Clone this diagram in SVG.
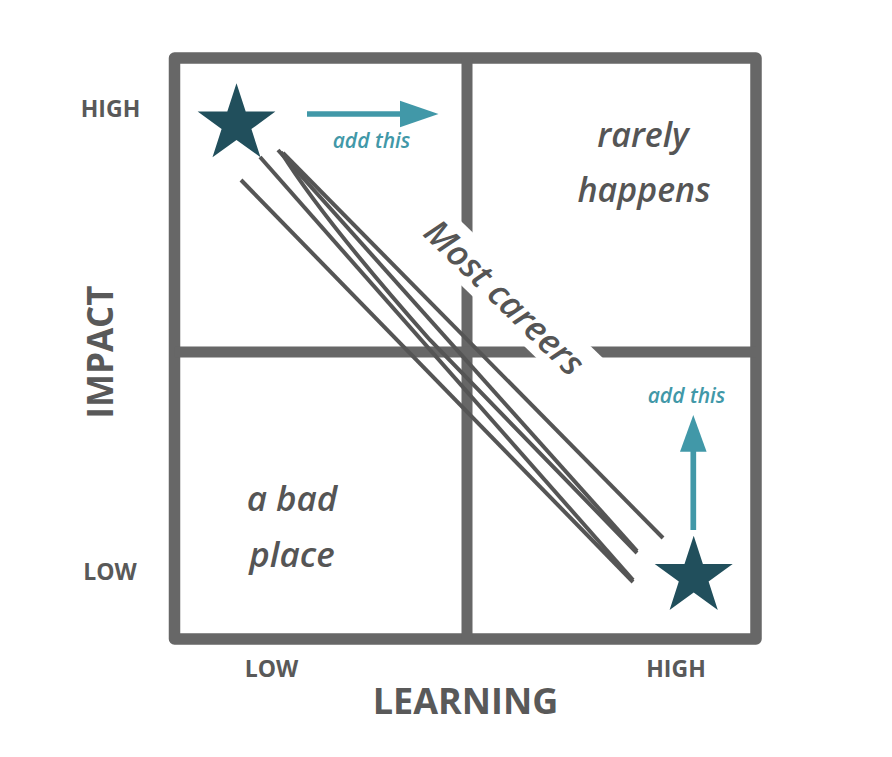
<svg xmlns="http://www.w3.org/2000/svg" width="892" height="757" viewBox="0 0 892 757">
<defs>
<style>
.frame{fill:none;stroke:#676767;stroke-width:11.5;stroke-linejoin:round}
.div{stroke:#676767;stroke-width:11}
.diag{fill:none;stroke:#555;stroke-width:4}
.star{fill:#214f5c}
.arrow{fill:#4198a8}
.shaft{stroke:#4198a8;stroke-width:5.7}
.axis{font-family:"Open Sans","Liberation Sans",sans-serif;font-weight:bold;fill:#595959;text-anchor:middle}
.hand{font-family:"Open Sans","Liberation Sans",sans-serif;font-style:italic;font-weight:600;fill:#555;text-anchor:middle}
.teal{fill:#4198a8}
</style>
</defs>
<rect width="892" height="757" fill="#fff"/>
<g id="grid">
<path class="frame" d="M174.5,58 H756 V639 H174.5 Z"/>
<line class="div" x1="467" y1="58" x2="467" y2="639"/>
<line class="div" x1="174.5" y1="352" x2="756" y2="352"/>
</g>
<g id="connectors">
<path class="diag" d="M241,180 L633,582"/>
<path class="diag" d="M260,157 L633,580"/>
<path class="diag" d="M278,150 L637,551"/>
<path class="diag" d="M281,152 Q322,218 430,340 L637,553"/>
<path class="diag" d="M283,153 L663,538"/>
</g>
<g id="most-careers" transform="translate(505,297) rotate(44)">
<rect x="-124" y="-24" width="248" height="46" fill="#fff"/>
<text class="hand" x="0" y="13" font-size="35">Most careers</text>
</g>
<g id="star-top">
<polygon class="star" points="236.5,83.3 245.7,111.6 275.4,111.6 251.4,129.1 260.5,157.3 236.5,139.9 212.5,157.3 221.6,129.1 197.6,111.6 227.3,111.6"/>
</g>
<g id="arrow-right">
<line class="shaft" x1="307" y1="114" x2="402" y2="114"/>
<polygon class="arrow" points="400,100.7 438.5,114 400,127.3"/>
<text class="hand teal" x="371.5" y="147.5" font-size="21">add this</text>
</g>
<g id="star-bottom">
<polygon class="star" points="693.7,535.7 702.9,564.0 732.7,564.0 708.6,581.5 717.8,609.9 693.7,592.4 669.6,609.9 678.8,581.5 654.7,564.0 684.5,564.0"/>
</g>
<g id="arrow-up">
<line class="shaft" x1="693.3" y1="530" x2="693.3" y2="449"/>
<polygon class="arrow" points="680,451.7 693.3,415 706.6,451.7"/>
<text class="hand teal" x="686.5" y="402.5" font-size="21">add this</text>
</g>
<g id="rarely-happens">
<text class="hand" x="643" y="146.5" font-size="34">rarely</text>
<text class="hand" x="644" y="201.5" font-size="34">happens</text>
</g>
<g id="bad-place">
<text class="hand" x="292" y="511" font-size="35">a bad</text>
<text class="hand" x="292" y="567" font-size="35">place</text>
</g>
<g id="labels">
<text class="axis" x="110.5" y="117" font-size="23">HIGH</text>
<text class="axis" x="110" y="580" font-size="23">LOW</text>
<text class="axis" x="271.5" y="677" font-size="23">LOW</text>
<text class="axis" x="676" y="677" font-size="23">HIGH</text>
<text class="axis" x="465.5" y="713.5" font-size="36">LEARNING</text>
<text class="axis" x="0" y="0" font-size="35" transform="translate(113,352) rotate(-90)">IMPACT</text>
</g>
</svg>
